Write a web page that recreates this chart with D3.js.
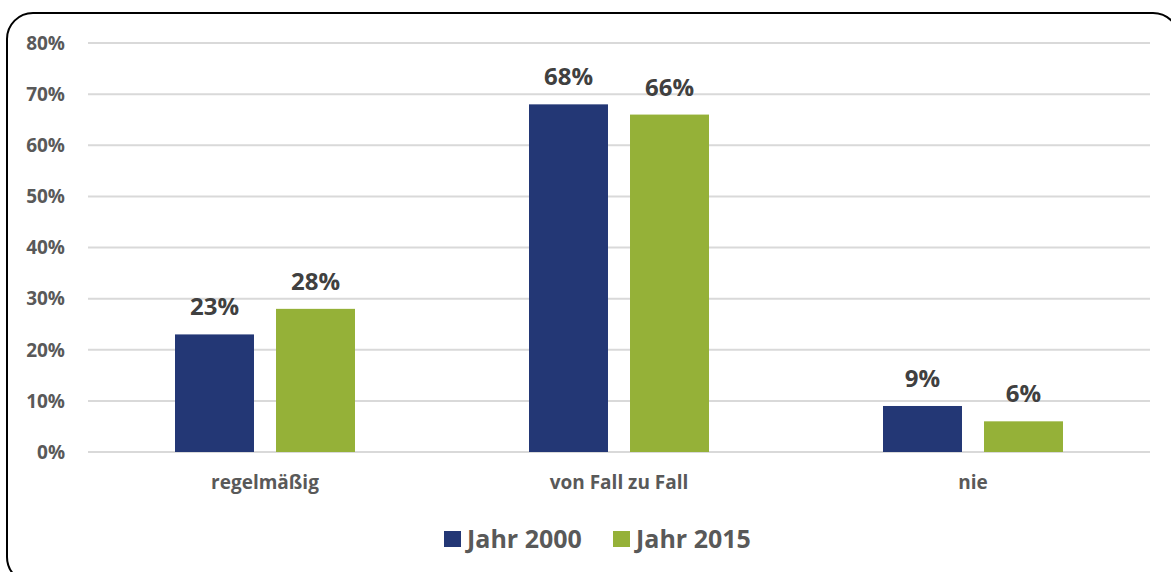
<!DOCTYPE html>
<html><head><meta charset="utf-8">
<script src="https://cdn.jsdelivr.net/npm/d3@7"></script>
<style>body{margin:0;background:#fff;}svg{display:block;font-family:"Open Sans",Lato,sans-serif;}</style>
</head><body>
<svg id="c" width="1171" height="572"></svg>
<script>
const categories = ["regelmäßig", "von Fall zu Fall", "nie"];
const seriesNames = ["Jahr 2000", "Jahr 2015"];
const jahr2000 = [23, 68, 9];
const jahr2015 = [28, 66, 6];
const yTicks = [0, 10, 20, 30, 40, 50, 60, 70, 80];
const colors = ["#233775", "#95B138"];

(function () {
const svg = d3.select("#c");
svg.append("rect").attr("x", 7).attr("y", 13).attr("width", 1172).attr("height", 570)
  .attr("rx", 26).attr("ry", 26).attr("fill", "#fff").attr("stroke", "#000").attr("stroke-width", 2);

const pl = 88, pr = 1150, pt = 43, pb = 452;
const x = d3.scaleBand().domain(categories).range([pl, pr]).paddingInner(0).paddingOuter(0);
const y = d3.scaleLinear().domain([0, 80]).range([pb, pt]);
const xs = d3.scaleBand().domain(seriesNames).range([-90, 90]).paddingInner(0.218);

svg.append("g").selectAll("line").data(yTicks).join("line")
  .attr("x1", pl).attr("x2", pr).attr("y1", d => y(d)).attr("y2", d => y(d))
  .attr("stroke", "#d9d9d9").attr("stroke-width", 2);

svg.append("g").selectAll("text").data(yTicks).join("text")
  .attr("x", 65).attr("y", d => y(d)).attr("dy", "0.36em").attr("text-anchor", "end")
  .attr("fill", "#595959").attr("font-weight", "bold").attr("font-size", 19)
  .text(d => d + "%");

const data = [jahr2000, jahr2015];
data.forEach((vals, si) => {
  const g = svg.append("g");
  g.selectAll("rect").data(vals).join("rect")
    .attr("x", (d, i) => x(categories[i]) + x.bandwidth() / 2 + xs(seriesNames[si]))
    .attr("width", xs.bandwidth())
    .attr("y", d => y(d)).attr("height", d => y(0) - y(d))
    .attr("fill", colors[si]);
  g.selectAll("text").data(vals).join("text")
    .attr("x", (d, i) => x(categories[i]) + x.bandwidth() / 2 + xs(seriesNames[si]) + xs.bandwidth() / 2)
    .attr("y", d => y(d) - 19)
    .attr("text-anchor", "middle").attr("fill", "#404040").attr("font-weight", "bold").attr("font-size", 24)
    .text(d => d + "%");
});

svg.append("g").selectAll("text").data(categories).join("text")
  .attr("x", d => x(d) + x.bandwidth() / 2).attr("y", 489).attr("text-anchor", "middle")
  .attr("fill", "#595959").attr("font-weight", "bold").attr("font-size", 19).text(d => d);

const legX = [444, 613];
seriesNames.forEach((s, i) => {
  svg.append("rect").attr("x", legX[i]).attr("y", 531).attr("width", 17).attr("height", 16).attr("fill", colors[i]);
  svg.append("text").attr("x", legX[i] + 23).attr("y", 548).attr("fill", "#595959")
    .attr("font-weight", "bold").attr("font-size", 25).text(s);
});
})();
</script>
</body></html>
